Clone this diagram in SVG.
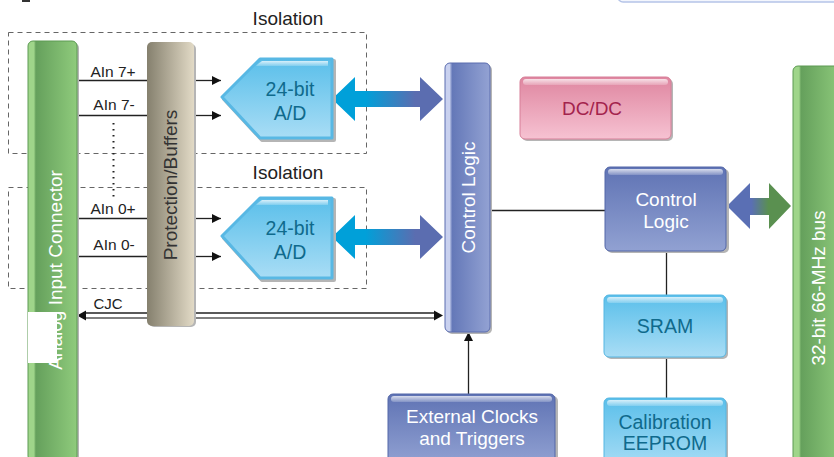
<svg xmlns="http://www.w3.org/2000/svg" width="834" height="457" viewBox="0 0 834 457">
<defs>
<linearGradient id="gGreen" x1="0" y1="0" x2="1" y2="0">
<stop offset="0" stop-color="#9fd58a"/><stop offset="0.12" stop-color="#9fd58a"/><stop offset="0.16" stop-color="#65a05c"/><stop offset="1" stop-color="#8fcb7c"/>
</linearGradient>
<linearGradient id="gTan" x1="0" y1="0" x2="1" y2="0">
<stop offset="0" stop-color="#85806e"/><stop offset="1" stop-color="#e2dac6"/>
</linearGradient>
<linearGradient id="gBlueV" x1="0" y1="0" x2="1" y2="0">
<stop offset="0" stop-color="#c9d1ef"/><stop offset="0.1" stop-color="#c9d1ef"/><stop offset="0.16" stop-color="#6478b8"/><stop offset="1" stop-color="#93a2d3"/>
</linearGradient>
<linearGradient id="gBlue" x1="0" y1="0" x2="0" y2="1">
<stop offset="0" stop-color="#5f73b4"/><stop offset="1" stop-color="#91a1d2"/>
</linearGradient>
<linearGradient id="gLight" x1="0" y1="0" x2="0" y2="1">
<stop offset="0" stop-color="#5abfea"/><stop offset="1" stop-color="#a9ddf5"/>
</linearGradient>
<linearGradient id="gPink" x1="0" y1="0" x2="0" y2="1">
<stop offset="0" stop-color="#df86a0"/><stop offset="1" stop-color="#f6c2d2"/>
</linearGradient>
<linearGradient id="gArrow" x1="332" y1="0" x2="443" y2="0" gradientUnits="userSpaceOnUse">
<stop offset="0.3" stop-color="#00a0d9"/><stop offset="0.75" stop-color="#5b6db0"/>
</linearGradient>
<linearGradient id="gArrow2" x1="727" y1="0" x2="791" y2="0" gradientUnits="userSpaceOnUse">
<stop offset="0.38" stop-color="#5a6fb4"/><stop offset="0.65" stop-color="#5a9050"/>
</linearGradient>
<linearGradient id="gHi" x1="0" y1="0" x2="0" y2="1">
<stop offset="0" stop-color="#ffffff" stop-opacity="0.75"/><stop offset="1" stop-color="#ffffff" stop-opacity="0.2"/>
</linearGradient>
<marker id="ah" viewBox="0 0 10 10" refX="10" refY="5" markerWidth="9" markerHeight="10" markerUnits="userSpaceOnUse" orient="auto">
<path d="M0,0 L10,5 L0,10 Z" fill="#111"/>
</marker>
</defs>
<style>
text{font-family:"Liberation Sans",Arial,sans-serif}
.iso{fill:none;stroke:#666;stroke-width:1;stroke-dasharray:5 4}
.lbl{font-size:15.5px;fill:#222;text-anchor:middle}
.isot{font-size:19px;fill:#222;text-anchor:middle}
.w{fill:#fff;text-anchor:middle;font-size:19px}
.t{fill:#0f6a8c;text-anchor:middle;font-size:19.5px}
.ln{stroke:#222;stroke-width:1.3;fill:none}
.sh{fill:#b5b5b5}
.hi{fill:url(#gHi)}
</style>

<!-- top fragments -->
<rect x="618" y="-20" width="220" height="22" rx="5" fill="#f3f6fd" stroke="#b5c4e8" stroke-width="1.5"/>
<rect x="22" y="0" width="8" height="2" fill="#333"/>

<!-- isolation boxes -->
<g id="isolation1">
<rect class="iso" x="8.5" y="32.5" width="358" height="121"/>
<text class="isot" x="288" y="25">Isolation</text>
</g>
<g id="isolation2">
<rect class="iso" x="8.5" y="187.5" width="358" height="101"/>
<text class="isot" x="288" y="179">Isolation</text>
</g>

<g id="connectors">
<line class="ln" x1="77" y1="80.5" x2="147" y2="80.5"/>
<line class="ln" x1="194" y1="80.5" x2="221" y2="80.5" marker-end="url(#ah)"/>
<line class="ln" x1="77" y1="115.5" x2="147" y2="115.5"/>
<line class="ln" x1="194" y1="115.5" x2="221" y2="115.5" marker-end="url(#ah)"/>
<line class="ln" x1="77" y1="218.5" x2="147" y2="218.5"/>
<line class="ln" x1="194" y1="218.5" x2="221" y2="218.5" marker-end="url(#ah)"/>
<line class="ln" x1="77" y1="256.5" x2="147" y2="256.5"/>
<line class="ln" x1="194" y1="256.5" x2="221" y2="256.5" marker-end="url(#ah)"/>
<line x1="113.5" y1="123" x2="113.5" y2="198" stroke="#222" stroke-width="2" stroke-dasharray="1.5 4.5"/>
<!-- CJC double line -->
<line x1="86" y1="313" x2="434" y2="313" stroke="#222" stroke-width="1.3"/>
<line x1="86" y1="318" x2="434" y2="318" stroke="#555" stroke-width="1.3"/>
<path d="M77,315.5 L86,310.5 L86,320.5 Z" fill="#111"/>
<path d="M443,315.5 L434,310.5 L434,320.5 Z" fill="#111"/>
<!-- control logic links -->
<line class="ln" x1="490" y1="210.5" x2="605" y2="210.5"/>
<line class="ln" x1="468.5" y1="394" x2="468.5" y2="332" marker-end="url(#ah)"/>
<line class="ln" x1="666.5" y1="251" x2="666.5" y2="295"/>
<line class="ln" x1="666.5" y1="357" x2="666.5" y2="398"/>
<!-- wide arrows -->
<path d="M332,99 L355,77 L355,91 L420,91 L420,77 L443,99 L420,121 L420,107 L355,107 L355,121 Z" fill="url(#gArrow)"/>
<path d="M332,237 L355,215 L355,229 L420,229 L420,215 L443,237 L420,259 L420,245 L355,245 L355,259 Z" fill="url(#gArrow)"/>
<path d="M727,206 L750,183 L750,198 L769,198 L769,183 L791,206 L769,229 L769,215 L750,215 L750,229 Z" fill="url(#gArrow2)"/>
<text class="lbl" x="113" y="77">AIn 7+</text>
<text class="lbl" x="114" y="110">AIn 7-</text>
<text class="lbl" x="113" y="214">AIn 0+</text>
<text class="lbl" x="114" y="250">AIn 0-</text>
<text class="lbl" x="108" y="309" style="font-size:15px">CJC</text>
</g>

<g id="analog-input-connector">
<rect class="sh" x="30" y="43" width="49" height="420" rx="5"/>
<rect x="28" y="41" width="49" height="420" rx="5" fill="url(#gGreen)" stroke="#5c9a52" stroke-width="1"/>
<text class="w" transform="translate(61.5,270) rotate(-90)">Analog Input Connector</text>
<rect x="28" y="312" width="29" height="51" fill="#fff"/>
</g>

<g id="protection-buffers">
<rect class="sh" x="149" y="44" width="47" height="283" rx="5"/>
<rect x="147" y="42" width="47" height="284" rx="5" fill="url(#gTan)"/>
<text transform="translate(177,185) rotate(-90)" text-anchor="middle" font-size="19" fill="#333">Protection/Buffers</text>
</g>

<g id="ad-top">
<path d="M224,99 L262,61 L334,61 L334,140 L262,140 Z" class="sh" stroke="#b5b5b5" stroke-width="4" stroke-linejoin="round"/>
<path d="M222,97 L260,59 L332,59 L332,138 L260,138 Z" fill="url(#gLight)" stroke="#58b8e4" stroke-width="3" stroke-linejoin="round"/>
<path d="M258,64 L262,61 L328,61 L328,66 L256,66 Z" class="hi"/>
<text class="t" x="290" y="96">24-bit</text>
<text class="t" x="290" y="120">A/D</text>
</g>
<g id="ad-bottom">
<path d="M224,238 L262,200 L334,200 L334,280 L262,280 Z" class="sh" stroke="#b5b5b5" stroke-width="4" stroke-linejoin="round"/>
<path d="M222,236 L260,198 L332,198 L332,278 L260,278 Z" fill="url(#gLight)" stroke="#58b8e4" stroke-width="3" stroke-linejoin="round"/>
<path d="M258,203 L262,200 L328,200 L328,205 L256,205 Z" class="hi"/>
<text class="t" x="290" y="235">24-bit</text>
<text class="t" x="290" y="259">A/D</text>
</g>

<g id="control-logic-main">
<rect class="sh" x="447" y="65" width="45" height="269" rx="5"/>
<rect x="445" y="63" width="45" height="269" rx="5" fill="url(#gBlueV)" stroke="#5a6caf" stroke-width="1"/>
<text class="w" transform="translate(475,197.5) rotate(-90)">Control Logic</text>
</g>

<g id="dcdc">
<rect class="sh" x="522" y="79" width="151" height="62" rx="5"/>
<rect x="520" y="77" width="151" height="62" rx="5" fill="url(#gPink)" stroke="#d77f98" stroke-width="1"/>
<rect x="523" y="79" width="145" height="6" rx="3" class="hi"/>
<text x="592" y="115" text-anchor="middle" font-size="19" fill="#a3234d">DC/DC</text>
</g>

<g id="control-logic-box">
<rect class="sh" x="607" y="169" width="122" height="84" rx="5"/>
<rect x="605" y="167" width="121" height="84" rx="5" fill="url(#gBlue)" stroke="#5366a8" stroke-width="1"/>
<rect x="608" y="169" width="115" height="6" rx="3" class="hi"/>
<text class="w" x="666" y="206">Control</text>
<text class="w" x="666" y="228">Logic</text>
</g>

<g id="sram">
<rect class="sh" x="606" y="297" width="122" height="62" rx="5"/>
<rect x="604" y="295" width="122" height="62" rx="5" fill="url(#gLight)" stroke="#55b6e2" stroke-width="1"/>
<rect x="607" y="297" width="116" height="6" rx="3" class="hi"/>
<text class="t" x="665" y="333">SRAM</text>
</g>

<g id="calibration-eeprom">
<rect class="sh" x="606" y="400" width="122" height="70" rx="5"/>
<rect x="604" y="398" width="122" height="70" rx="5" fill="url(#gLight)" stroke="#55b6e2" stroke-width="1"/>
<rect x="607" y="400" width="116" height="6" rx="3" class="hi"/>
<text class="t" x="665" y="429">Calibration</text>
<text class="t" x="665" y="450">EEPROM</text>
</g>

<g id="external-clocks">
<rect class="sh" x="390" y="396" width="168" height="70" rx="5"/>
<rect x="388" y="394" width="167" height="70" rx="5" fill="url(#gBlue)" stroke="#5366a8" stroke-width="1"/>
<rect x="391" y="396" width="161" height="6" rx="3" class="hi"/>
<text class="w" x="472" y="423">External Clocks</text>
<text class="w" x="472" y="445">and Triggers</text>
</g>

<g id="bus">
<rect x="793" y="66" width="50" height="400" rx="5" fill="url(#gGreen)" stroke="#5c9a52" stroke-width="1"/>
<text class="w" transform="translate(825,288) rotate(-90)">32-bit 66-MHz bus</text>
</g>
</svg>
